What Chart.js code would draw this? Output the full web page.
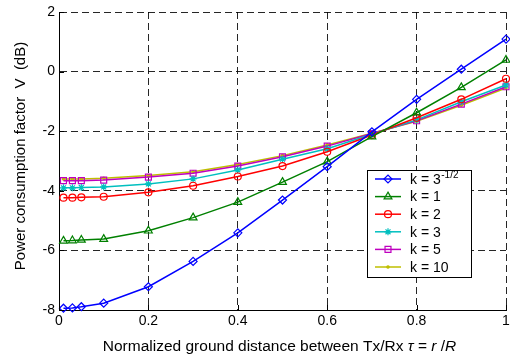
<!DOCTYPE html>
<html>
<head>
<meta charset="utf-8">
<script src="https://cdn.jsdelivr.net/npm/chart.js@4.4.1/dist/chart.umd.min.js"></script>
<style>
html, body { margin: 0; padding: 0; background: #fff; }
</style>
</head>
<body>
<canvas id="chart" width="510" height="360"></canvas>
<script>
// data
const tau = [0.01, 0.03, 0.05, 0.1, 0.2, 0.3, 0.4, 0.5, 0.6, 0.7, 0.8, 0.9, 1.0];
const vK1 = [-7.94, -7.93, -7.89, -7.77, -7.22, -6.37, -5.41, -4.31, -3.19, -2.02, -0.93, 0.08, 1.09]; // k = 3^-1/2
const vK2 = [-5.68, -5.67, -5.65, -5.62, -5.34, -4.90, -4.38, -3.71, -3.02, -2.18, -1.38, -0.53, 0.39]; // k = 1
const vK3 = [-4.23, -4.23, -4.22, -4.20, -4.05, -3.83, -3.52, -3.17, -2.69, -2.13, -1.55, -0.93, -0.24]; // k = 2
const vK4 = [-3.90, -3.90, -3.89, -3.87, -3.77, -3.60, -3.30, -2.94, -2.59, -2.10, -1.62, -1.01, -0.45]; // k = 3
const vK5 = [-3.66, -3.66, -3.66, -3.64, -3.54, -3.41, -3.17, -2.86, -2.50, -2.08, -1.65, -1.09, -0.51]; // k = 5
const vK6 = [-3.60, -3.60, -3.60, -3.58, -3.49, -3.36, -3.12, -2.82, -2.46, -2.07, -1.67, -1.13, -0.55]; // k = 10
const seriesLabels = ['k = 3', 'k = 1', 'k = 2', 'k = 3', 'k = 5', 'k = 10'];
const xTicks = [0, 0.2, 0.4, 0.6, 0.8, 1];
const yTicks = [-8, -6, -4, -2, 0, 2];

const FONT = '"Liberation Sans", Arial, Helvetica, sans-serif';

// matlab-ish styles per series
const styles = [
    { color: '#0000ff', pointStyle: 'rectRot', radius: 4, fill: false },
    { color: '#008000', pointStyle: 'triangle', radius: 4.5, fill: false },
    { color: '#ff0000', pointStyle: 'circle', radius: 3.5, fill: false },
    { color: '#00bfbf', pointStyle: 'star', radius: 3.5, fill: false },
    { color: '#bf00bf', pointStyle: 'rect', radius: 4.2, fill: false },
    { color: '#bfbf00', pointStyle: 'circle', radius: 1.2, fill: true }
];
const allValues = [vK1, vK2, vK3, vK4, vK5, vK6];

const datasets = allValues.map((vals, i) => ({
    label: seriesLabels[i],
    data: tau.map((t, j) => ({ x: t, y: vals[j] })),
    borderColor: styles[i].color,
    borderWidth: 1.5,
    pointStyle: styles[i].pointStyle,
    pointRadius: styles[i].radius,
    pointBorderWidth: 1.2,
    pointBorderColor: styles[i].color,
    pointBackgroundColor: styles[i].fill ? styles[i].color : 'rgba(0,0,0,0)',
    tension: 0,
    fill: false,
    clip: false
}));

// inward ticks, axis titles and the legend box
const decorPlugin = {
    id: 'decor',
    afterDraw(chart) {
        const ctx = chart.ctx;
        const area = chart.chartArea;
        const xs = chart.scales.x;
        const ys = chart.scales.y;
        ctx.save();

        ctx.strokeStyle = '#000';
        ctx.lineWidth = 1;
        ctx.setLineDash([]);
        ctx.beginPath();
        xTicks.forEach(v => {
            const px = Math.round(xs.getPixelForValue(v)) + 0.5;
            ctx.moveTo(px, area.bottom);
            ctx.lineTo(px, area.bottom - 5);
        });
        yTicks.forEach(v => {
            const py = Math.round(ys.getPixelForValue(v)) + 0.5;
            ctx.moveTo(area.left, py);
            ctx.lineTo(area.left + 5, py);
        });
        ctx.stroke();

        // y title
        ctx.fillStyle = '#000';
        ctx.save();
        ctx.translate(21, (area.top + area.bottom) / 2 - 5);
        ctx.rotate(-Math.PI / 2);
        ctx.font = '15px ' + FONT;
        ctx.textAlign = 'center';
        ctx.textBaseline = 'middle';
        ctx.fillText('Power consumption factor  V  (dB)', 0, 0);
        ctx.restore();

        // x title with italic symbols
        const parts = [
            ['Normalized ground distance between Tx/Rx ', false],
            ['\u03c4', true],
            [' = ', false],
            ['r', true],
            [' /', false],
            ['R', true]
        ];
        const tf = '15.5px ' + FONT;
        let total = 0;
        parts.forEach(p => {
            ctx.font = (p[1] ? 'italic ' : '') + tf;
            total += ctx.measureText(p[0]).width;
        });
        let x = (area.left + area.right) / 2 - total / 2 - 3;
        ctx.textAlign = 'left';
        ctx.textBaseline = 'middle';
        parts.forEach(p => {
            ctx.font = (p[1] ? 'italic ' : '') + tf;
            ctx.fillText(p[0], x, 347);
            x += ctx.measureText(p[0]).width;
        });

        // legend
        const lx = 367, ly = 170, lw = 104, lh = 107;
        ctx.fillStyle = '#fff';
        ctx.fillRect(lx, ly, lw, lh);
        ctx.strokeStyle = '#000';
        ctx.lineWidth = 1;
        ctx.strokeRect(lx + 0.5, ly + 0.5, lw, lh);
        chart.data.datasets.forEach((ds, i) => {
            const cy = 179 + i * 17.6;
            ctx.strokeStyle = ds.borderColor;
            ctx.lineWidth = 1.5;
            ctx.beginPath();
            ctx.moveTo(375, cy);
            ctx.lineTo(401, cy);
            ctx.stroke();
            ctx.fillStyle = ds.pointBackgroundColor;
            ctx.strokeStyle = ds.pointBorderColor;
            ctx.lineWidth = ds.pointBorderWidth;
            Chart.helpers.drawPoint(ctx, {
                pointStyle: ds.pointStyle,
                radius: ds.pointRadius,
                borderWidth: ds.pointBorderWidth,
                rotation: 0
            }, 388, cy);
            ctx.fillStyle = '#000';
            ctx.font = '14px ' + FONT;
            ctx.textAlign = 'left';
            ctx.textBaseline = 'middle';
            ctx.fillText(ds.label, 410, cy + 1);
            if (i === 0) {
                const w = ctx.measureText(ds.label).width;
                ctx.font = '10px ' + FONT;
                ctx.fillText('-1/2', 410 + w + 0.5, cy - 4);
            }
        });
        ctx.restore();
    }
};

const gridColor = 'rgba(0,0,0,0.85)';

const chart = new Chart(document.getElementById('chart').getContext('2d'), {
    type: 'line',
    data: { datasets },
    plugins: [decorPlugin],
    options: {
        responsive: false,
        devicePixelRatio: 1,
        animation: false,
        layout: { autoPadding: false, padding: { left: 0, top: 12, right: 4, bottom: 0 } },
        plugins: {
            legend: { display: false },
            tooltip: { enabled: false }
        },
        scales: {
            x: {
                type: 'linear',
                min: 0,
                max: 1,
                afterBuildTicks: s => { s.ticks = xTicks.map(v => ({ value: v })); },
                afterFit: s => { s.height = 50; s.paddingLeft = 0; s.paddingRight = 0; },
                ticks: {
                    color: '#000',
                    font: { family: FONT, size: 14 },
                    padding: 3,
                    maxRotation: 0,
                    callback: v => String(v)
                },
                grid: { color: gridColor, lineWidth: 1, drawTicks: false },
                border: { display: true, color: '#000', width: 1, dash: [7, 4] }
            },
            y: {
                type: 'linear',
                min: -8,
                max: 2,
                afterBuildTicks: s => { s.ticks = yTicks.map(v => ({ value: v })); },
                afterFit: s => { s.width = 59; s.paddingTop = 0; s.paddingBottom = 0; },
                ticks: {
                    color: '#000',
                    font: { family: FONT, size: 14 },
                    padding: 4,
                    callback: v => String(v)
                },
                grid: { color: gridColor, lineWidth: 1, drawTicks: false },
                border: { display: true, color: '#000', width: 1, dash: [7, 4] }
            }
        }
    }
});
</script>
</body>
</html>
